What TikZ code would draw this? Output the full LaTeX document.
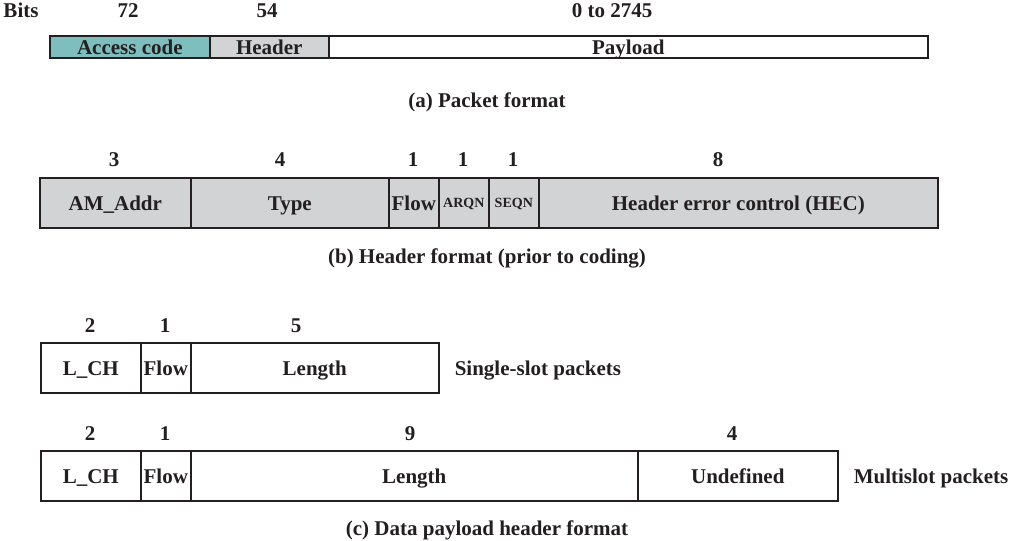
\documentclass[tikz,border=0pt]{standalone}
\usepackage{fontspec}
\setmainfont{Liberation Serif}
\usepackage{tikz}
\usetikzlibrary{positioning}
\usepackage{xcolor}
\definecolor{accessteal}{RGB}{127,190,190}
\definecolor{hdrgray}{RGB}{209,211,212}
\definecolor{edgeblack}{RGB}{35,31,32}
\newcommand{\figfont}{\bfseries\fontsize{21}{24}\selectfont}
\newcommand{\tinyfig}{\bfseries\fontsize{14}{16}\selectfont}

\begin{document}
\begin{tikzpicture}[x=1pt, y=-1pt,
        field/.style={draw=edgeblack, line width=1.6pt, inner sep=0pt, anchor=west, font=\figfont, text=edgeblack, text height=14pt, text depth=0pt},
        pktfield/.style={field, minimum height=22pt},
        hdrfield/.style={field, minimum height=50pt},
        bits/.style={inner sep=0pt, font=\figfont, text=edgeblack, text height=14pt, text depth=0pt},
        caption/.style={inner sep=0pt, font=\figfont, text=edgeblack, text height=14pt, text depth=0pt}
    ]
    \useasboundingbox (0,0) rectangle (1018,541);

    % (a) Packet format
    \node[pktfield, fill=accessteal, minimum width=160pt] (access) at (49,47) {Access code};
    \node[pktfield, fill=hdrgray, minimum width=119pt] (pkthdr) at (209,47) {Header};
    \node[pktfield, fill=white, minimum width=599pt] (payload) at (328,47) {Payload};
    \node[bits] (bitsword) at (21,10) {Bits};
    \node[bits] (nacc) at (128,10) {72};
    \node[bits] (nhdr) at (267,10) {54};
    \node[bits] (npay) at (612,10) {0 to 2745};
    \node[caption] (capa) at (487,100) {(a) Packet format};

    % (b) Header format
    \node[hdrfield, fill=hdrgray, minimum width=151pt] (amaddr) at (39,203) {AM\_Addr};
    \node[hdrfield, fill=hdrgray, minimum width=198pt] (type) at (190,203) {Type};
    \node[hdrfield, fill=hdrgray, minimum width=50pt] (hflow) at (388,203) {Flow};
    \node[hdrfield, fill=hdrgray, minimum width=50pt, font=\tinyfig, text height=9pt] (arqn) at (438,203) {ARQN};
    \node[hdrfield, fill=hdrgray, minimum width=50pt, font=\tinyfig, text height=9pt] (seqn) at (488,203) {SEQN};
    \node[hdrfield, fill=hdrgray, minimum width=399pt] (hec) at (538,203) {Header error control (HEC)};
    \node[bits] (nam) at (114,159) {3};
    \node[bits] (ntype) at (280,159) {4};
    \node[bits] (nflow) at (413,159) {1};
    \node[bits] (narqn) at (463,159) {1};
    \node[bits] (nseqn) at (513,159) {1};
    \node[bits] (nhec) at (718,159) {8};
    \node[caption] (capb) at (487,256) {(b) Header format (prior to coding)};

    % (c) Data payload header, single-slot
    \node[hdrfield, minimum width=100pt] (slch) at (40,368) {L\_CH};
    \node[hdrfield, minimum width=50pt] (sflow) at (140,368) {Flow};
    \node[hdrfield, minimum width=248pt] (slen) at (190,368) {Length};
    \node[bits] (nslch) at (90,325) {2};
    \node[bits] (nsflow) at (165,325) {1};
    \node[bits] (nslen) at (296,325) {5};
    \node[caption, right=15pt of slen] (single) {Single-slot packets};

    % (c) Data payload header, multislot
    \node[hdrfield, minimum width=100pt] (mlch) at (40,476) {L\_CH};
    \node[hdrfield, minimum width=50pt] (mflow) at (140,476) {Flow};
    \node[hdrfield, minimum width=447pt] (mlen) at (190,476) {Length};
    \node[hdrfield, minimum width=200pt] (mundef) at (637,476) {Undefined};
    \node[bits] (nmlch) at (90,433) {2};
    \node[bits] (nmflow) at (165,433) {1};
    \node[bits] (nmlen) at (410,433) {9};
    \node[bits] (nmundef) at (732,433) {4};
    \node[caption, right=15pt of mundef] (multi) {Multislot packets};
    \node[caption] (capc) at (487,528) {(c) Data payload header format};

\end{tikzpicture}
\end{document}
